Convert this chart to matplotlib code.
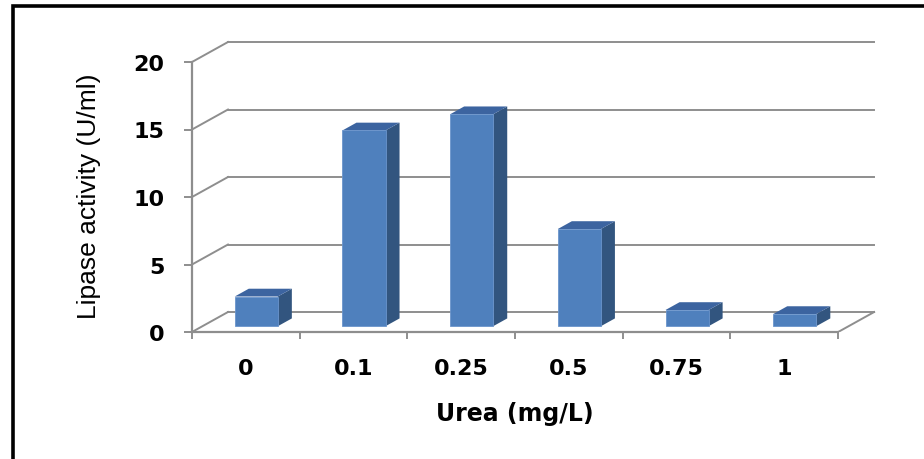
import matplotlib.pyplot as plt
from matplotlib.patches import Polygon, Rectangle
import numpy as np

categories = ['0', '0.1', '0.25', '0.5', '0.75', '1']
activity = [2.2, 14.5, 15.7, 7.2, 1.2, 0.9]
y_ticks = [0, 5, 10, 15, 20]

# fake 3d look (excel style column chart)
DX = 0.334   # depth offset in category units
DY = 1.48    # depth offset in value units
bar_w = 0.40
z_front = 0.29
z_depth = 0.39

front_c = '#4f80bd'
side_c = '#32557f'
top_c = '#3c64a0'
grid_c = '#8e8e8e'

fig = plt.figure(figsize=(9.24, 4.6), dpi=100)
ax = fig.add_axes([192/924, 127/460, 700/924, 297/460])
ax.set_xlim(0, 6.5)
ax.set_ylim(0, 22)

n = len(categories)

# back wall grid lines + diagonals on the side wall
for t in y_ticks:
    ax.plot([DX, n + DX], [t + DY, t + DY], color=grid_c, lw=1.4, zorder=1)
    ax.plot([0, DX], [t, t + DY], color=grid_c, lw=1.4, zorder=1)
# floor right edge
ax.plot([n, n + DX], [0, DY], color=grid_c, lw=1.4, zorder=1)

# bars
x = np.arange(n) + 0.5
left = x - bar_w / 2 + z_front * DX
base = z_front * DY
ax.bar(left, activity, width=bar_w, bottom=base, align='edge',
       color=front_c, edgecolor='#6b95cc', lw=0.6, zorder=3)
for xl, v in zip(left, activity):
    xr = xl + bar_w
    top = base + v
    side = Polygon([(xr, base), (xr, top), (xr + z_depth * DX, top + z_depth * DY),
                    (xr + z_depth * DX, base + z_depth * DY)],
                   closed=True, fc=side_c, ec='none', zorder=2)
    lid = Polygon([(xl, top), (xr, top), (xr + z_depth * DX, top + z_depth * DY),
                   (xl + z_depth * DX, top + z_depth * DY)],
                  closed=True, fc=top_c, ec='none', zorder=2)
    ax.add_patch(side)
    ax.add_patch(lid)

# axes
for s in ['top', 'right']:
    ax.spines[s].set_visible(False)
ax.spines['left'].set_bounds(0, 20)
ax.spines['bottom'].set_bounds(0, n)
for s in ['left', 'bottom']:
    ax.spines[s].set_color(grid_c)
    ax.spines[s].set_linewidth(1.6)
    ax.spines[s].set_zorder(4)

ax.set_yticks(y_ticks)
ax.set_yticklabels([str(t) for t in y_ticks])
ax.set_xticks(np.arange(n + 1))
ax.set_xticklabels([])
ax.set_xticks(x, minor=True)
ax.set_xticklabels(categories, minor=True)
ax.tick_params(axis='y', length=6, width=1.4, color=grid_c, pad=14)
ax.tick_params(axis='x', which='major', length=5, width=1.4, color=grid_c)
ax.tick_params(axis='x', which='minor', length=0, pad=19)
for lab in ax.get_yticklabels() + ax.get_xticklabels(minor=True):
    lab.set_fontfamily('DejaVu Sans')
    lab.set_fontweight('bold')
    lab.set_fontsize(16)

ax.set_xlabel('Urea (mg/L)', fontfamily='DejaVu Sans', fontweight='bold',
              fontsize=17, va='center')
ax.xaxis.set_label_coords(0.461, -0.273)
ax.set_ylabel('Lipase activity (U/ml)', fontfamily='Liberation Sans',
              fontsize=19, va='center')
ax.yaxis.set_label_coords(-0.147, 0.461)

# outer frame (only left and top edges are visible in the picture)
fig.patches.append(Rectangle((12.5/924, -0.2), 2, 1.2 - 6.5/460, fill=False,
                             ec='black', lw=2.6, transform=fig.transFigure))

fig.savefig('out.png', dpi=100)
